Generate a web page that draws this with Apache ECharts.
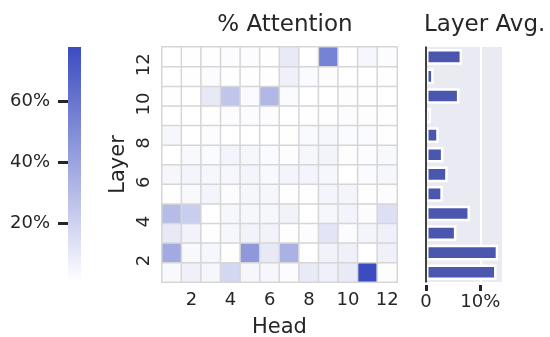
<!DOCTYPE html>
<html>
<head>
<meta charset="utf-8">
<script src="https://cdn.jsdelivr.net/npm/echarts@6/dist/echarts.min.js"></script>
<style>
  html, body { margin: 0; padding: 0; background: #ffffff; }
  #chart { width: 550px; height: 337px; }
</style>
</head>
<body>
<div id="chart"></div>
<script>
// Heads (columns) and layers (rows, layer 1 at the bottom)
const heads = ['1', '2', '3', '4', '5', '6', '7', '8', '9', '10', '11', '12'];
const layers = ['1', '2', '3', '4', '5', '6', '7', '8', '9', '10', '11', '12'];

// Share of attention (%) per head, one array per layer
const layer1  = [3.1, 7.0, 3.9, 17.9, 3.9, 3.9, 1.6, 9.4, 7.0, 9.4, 78.0, 1.2];
const layer2  = [37.4, 3.1, 3.9, 0.8, 45.2, 10.1, 34.3, 0.2, 6.2, 7.0, 0.2, 7.0];
const layer3  = [10.1, 6.2, 0.8, 3.9, 6.2, 6.2, 0.8, 1.6, 11.7, 1.6, 4.7, 7.0];
const layer4  = [29.6, 21.8, 0.2, 3.9, 3.9, 3.9, 6.2, 0.2, 3.9, 5.5, 1.6, 14.0];
const layer5  = [0.2, 3.1, 4.7, 1.6, 3.9, 3.9, 0.8, 0.8, 4.7, 4.7, 0.8, 1.6];
const layer6  = [3.9, 4.7, 3.9, 3.9, 4.7, 3.1, 4.7, 4.7, 3.9, 0.2, 2.3, 3.9];
const layer7  = [0.4, 3.1, 2.3, 4.7, 3.9, 2.3, 1.2, 3.9, 5.5, 1.2, 1.6, 3.1];
const layer8  = [3.9, 0.2, 1.6, 0.2, 0.2, 0.2, 0.8, 2.7, 3.9, 2.3, 2.3, 0.8];
const layer9  = [0.4, 0.2, 0.8, 1.6, 1.6, 1.6, 0.2, 0.8, 0.8, 1.6, 1.2, 0.8];
const layer10 = [0.8, 0.4, 10.1, 25.7, 2.3, 31.2, 2.3, 0.2, 0.2, 1.2, 0.8, 0.2];
const layer11 = [0.4, 0.8, 1.6, 0.8, 0.8, 0.8, 7.0, 2.3, 1.2, 0.2, 0.2, 0.8];
const layer12 = [0.4, 0.8, 0.8, 1.6, 1.6, 0.8, 9.4, 0.4, 54.6, 0.4, 3.9, 1.6];

// Average attention per layer (%), layer 1 first
const layerAvg = [13.0, 13.3, 5.6, 8.1, 3.1, 4.0, 3.2, 2.35, 0.95, 6.15, 1.4, 6.65];

// Colour scale range (%) and tick values
const scaleMin = 0.5;
const scaleMax = 78;
const colorTicks = [20, 40, 60];
const avgTicks = [0, 10];

const LOW = '#ffffff';
const HIGH = '#3b4cc0';

const rows = [layer1, layer2, layer3, layer4, layer5, layer6,
              layer7, layer8, layer9, layer10, layer11, layer12];
const cells = [];
rows.forEach((row, li) => row.forEach((v, hi) => cells.push([hi, li, v])));

const FONT = 'DejaVu Sans';
const INK = '#262626';
const evenOnly = (i) => i % 2 === 1;

// Colour bar: one rectangle spanning the scale, placed through its own axes
function renderColorBar(params, api) {
  const topLeft = api.coord([0, api.value(1)]);
  const bottomRight = api.coord([1, api.value(0)]);
  return {
    type: 'rect',
    shape: {
      x: topLeft[0], y: topLeft[1],
      width: bottomRight[0] - topLeft[0], height: bottomRight[1] - topLeft[1]
    },
    style: {
      fill: new echarts.graphic.LinearGradient(0, 1, 0, 0, [
        { offset: 0, color: LOW }, { offset: 1, color: HIGH }
      ])
    }
  };
}

const chart = echarts.init(document.getElementById('chart'), null, { renderer: 'canvas' });
chart.setOption({
  animation: false,
  textStyle: { fontFamily: FONT, color: INK },
  title: [
    { text: '% Attention', left: 280, top: 9, textAlign: 'center',
      textStyle: { fontFamily: FONT, fontSize: 23, fontWeight: 'normal', color: INK } },
    { text: 'Layer Avg.', left: 419, top: 9,
      textStyle: { fontFamily: FONT, fontSize: 23, fontWeight: 'normal', color: INK } }
  ],
  grid: [
    { left: 162, top: 47, width: 235, height: 235, outerBoundsMode: 'none' },
    { left: 426, top: 47, width: 76, height: 235, show: true, outerBoundsMode: 'none',
      backgroundColor: '#eaeaf2', borderWidth: 0 },
    { left: 68, top: 47, width: 13, height: 235, outerBoundsMode: 'none' }
  ],
  xAxis: [
    { type: 'category', gridIndex: 0, data: heads,
      axisLine: { show: false }, axisTick: { show: false },
      axisLabel: { interval: evenOnly, fontSize: 18, color: INK, margin: 9 },
      name: 'Head', nameLocation: 'middle', nameGap: 35,
      nameTextStyle: { fontSize: 21, color: INK, fontFamily: FONT } },
    { type: 'value', gridIndex: 1, min: 0, max: 14, interval: 10, offset: 3,
      axisLine: { show: false },
      axisTick: { show: true, length: 6, customValues: avgTicks,
                  lineStyle: { width: 3, color: INK } },
      axisLabel: { customValues: avgTicks, fontSize: 18, color: INK, margin: 8,
                   formatter: (v) => (v === 0 ? '0' : v + '%') },
      splitLine: { show: true, lineStyle: { color: '#ffffff', width: 2 } } },
    { type: 'value', gridIndex: 2, min: 0, max: 1, show: false }
  ],
  yAxis: [
    { type: 'category', gridIndex: 0, data: layers,
      axisLine: { show: false }, axisTick: { show: false },
      axisLabel: { interval: evenOnly, rotate: 90, fontSize: 18, color: INK, margin: 9,
                   padding: [0, 16, 0, 0] },
      name: 'Layer', nameLocation: 'middle', nameGap: 33,
      nameTextStyle: { fontSize: 21, color: INK, fontFamily: FONT } },
    { type: 'category', gridIndex: 1, data: layers, z: 10,
      axisLine: { show: true, lineStyle: { color: '#000000', width: 1.5 } },
      axisTick: { show: false }, axisLabel: { show: false }, splitLine: { show: false } },
    { type: 'value', gridIndex: 2, min: scaleMin, max: scaleMax, position: 'left', offset: 3,
      axisLine: { show: false },
      axisTick: { show: true, length: 10, customValues: colorTicks,
                  lineStyle: { width: 3, color: INK } },
      axisLabel: { customValues: colorTicks, fontSize: 18, color: INK, margin: 15,
                   formatter: (v) => v + '%' },
      splitLine: { show: false } }
  ],
  visualMap: {
    type: 'continuous', seriesIndex: 0, min: scaleMin, max: scaleMax, show: false,
    inRange: { color: [LOW, HIGH] }
  },
  series: [
    { type: 'heatmap', xAxisIndex: 0, yAxisIndex: 0, data: cells,
      itemStyle: { borderColor: '#d6d6d6', borderWidth: 1.5 },
      emphasis: { disabled: true } },
    { type: 'bar', xAxisIndex: 1, yAxisIndex: 1, data: layerAvg,
      barWidth: '80%',
      itemStyle: { color: '#4b57af', borderColor: '#ffffff', borderWidth: 2.5 },
      emphasis: { disabled: true } },
    { type: 'custom', xAxisIndex: 2, yAxisIndex: 2, data: [[scaleMin, scaleMax]],
      renderItem: renderColorBar, silent: true }
  ]
});
</script>
</body>
</html>
